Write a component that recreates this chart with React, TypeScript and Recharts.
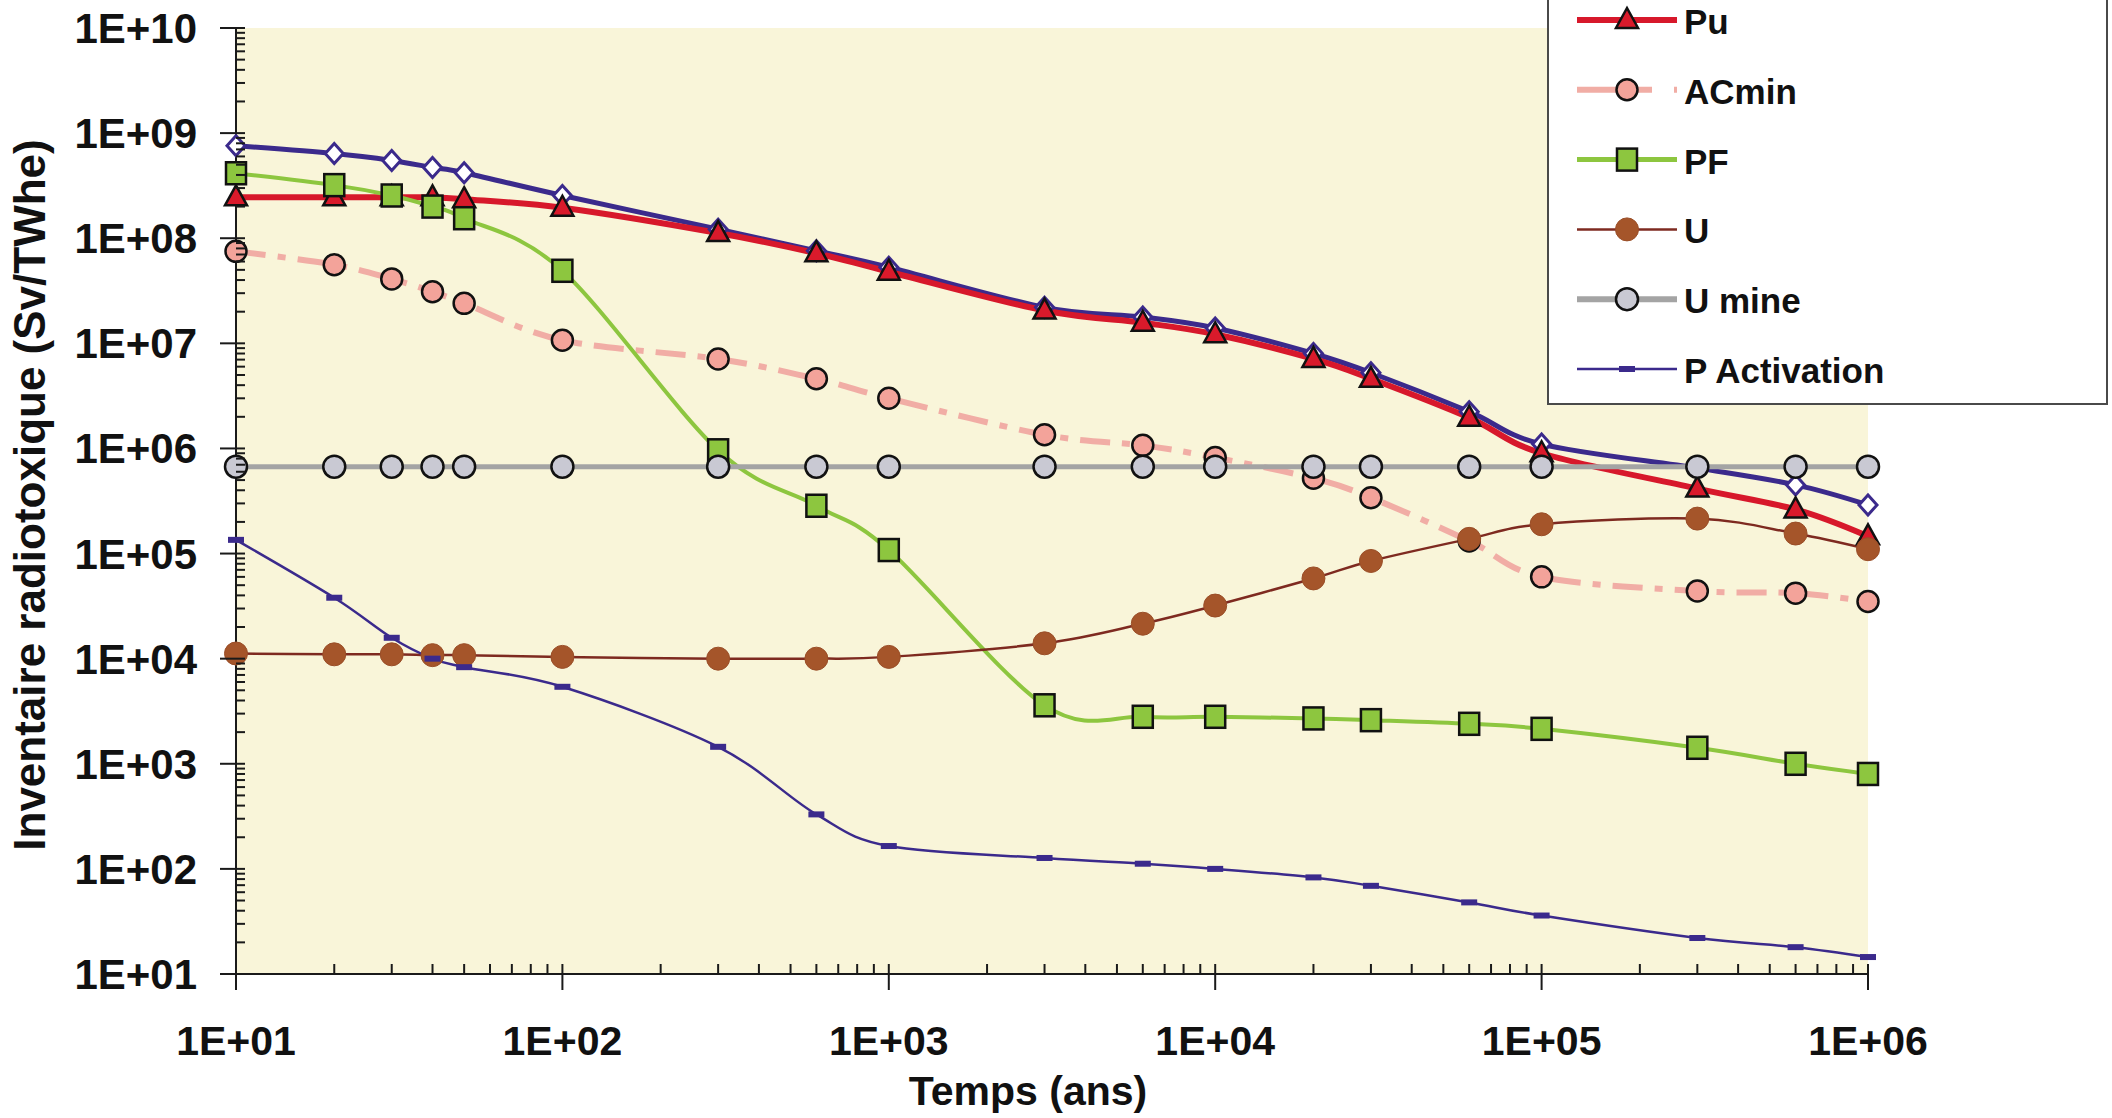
import React from 'react';
import { LineChart, Line, XAxis, YAxis, CartesianGrid } from 'recharts';

// Time points (years)
const years = [10, 20, 30, 40, 50, 100, 300, 600, 1000, 3000, 6000, 10000, 20000, 30000, 60000, 100000, 300000, 600000, 1000000];

// Series values (Sv/TWhe)
const totalSeries = [7.6e8, 6.4e8, 5.5e8, 4.7e8, 4.2e8, 2.55e8, 1.22e8, 7.6e7, 5.3e7, 2.2e7, 1.78e7, 1.4e7, 8.0e6, 5.25e6, 2.24e6, 1.1e6, 6.5e5, 4.5e5, 2.9e5];
const puSeries = [2.45e8, 2.45e8, 2.45e8, 2.45e8, 2.35e8, 1.95e8, 1.12e8, 7.2e7, 4.8e7, 2.05e7, 1.57e7, 1.22e7, 7.1e6, 4.6e6, 1.96e6, 9.0e5, 4.15e5, 2.63e5, 1.46e5];
const acminSeries = [7.5e7, 5.6e7, 4.1e7, 3.1e7, 2.4e7, 1.07e7, 7.1e6, 4.6e6, 3.0e6, 1.35e6, 1.07e6, 8.2e5, 5.2e5, 3.4e5, 1.32e5, 6.0e4, 4.4e4, 4.2e4, 3.5e4];
const pfSeries = [4.15e8, 3.2e8, 2.55e8, 2.0e8, 1.55e8, 4.9e7, 9.6e5, 2.85e5, 1.08e5, 3.6e3, 2.8e3, 2.8e3, 2.7e3, 2.6e3, 2.4e3, 2.15e3, 1.42e3, 1.0e3, 8.0e2];
const uSeries = [1.12e4, 1.1e4, 1.1e4, 1.08e4, 1.08e4, 1.04e4, 1.0e4, 1.0e4, 1.04e4, 1.4e4, 2.15e4, 3.2e4, 5.8e4, 8.5e4, 1.38e5, 1.9e5, 2.15e5, 1.55e5, 1.1e5];
const uMineSeries = [6.7e5, 6.7e5, 6.7e5, 6.7e5, 6.7e5, 6.7e5, 6.7e5, 6.7e5, 6.7e5, 6.7e5, 6.7e5, 6.7e5, 6.7e5, 6.7e5, 6.7e5, 6.7e5, 6.7e5, 6.7e5, 6.7e5];
const pActSeries = [1.35e5, 3.8e4, 1.58e4, 1.0e4, 8.3e3, 5.4e3, 1.45e3, 3.3e2, 1.65e2, 1.27e2, 1.12e2, 1.0e2, 8.3e1, 6.9e1, 4.8e1, 3.6e1, 2.2e1, 1.8e1, 1.45e1];

// Axis ticks
const xDecades = [10, 100, 1000, 10000, 100000, 1000000];
const yDecades = [10, 100, 1000, 1e4, 1e5, 1e6, 1e7, 1e8, 1e9, 1e10];
const minorSteps = [2, 3, 4, 5, 6, 7, 8, 9];

const withMinors = (decades: number[]) => {
  const out: number[] = [];
  decades.forEach((d, i) => {
    out.push(d);
    if (i < decades.length - 1) minorSteps.forEach((m) => out.push(d * m));
  });
  return out;
};
const xTicks = withMinors(xDecades);
const yTicks = withMinors(yDecades);

const data = years.map((t, i) => ({
  t,
  total: totalSeries[i],
  pu: puSeries[i],
  acmin: acminSeries[i],
  pf: pfSeries[i],
  u: uSeries[i],
  umine: uMineSeries[i],
  pact: pActSeries[i],
}));

const FONT = '"Liberation Sans", Arial, Helvetica, sans-serif';

const C = {
  bg: '#F9F5D9',
  total: '#3B2A8C',
  pu: '#D7182B',
  acmin: '#F1ADA5',
  acminFill: '#F3A39A',
  pf: '#8DC63F',
  u: '#7E2A20',
  uFill: '#A5552A',
  umine: '#A4A4A4',
  umineFill: '#C9C9D3',
  pact: '#3B2A8C',
};

// Excel-like smoothing (cardinal spline, tension 0)
function smoothCurve(context: any) {
  const k = 1 / 6;
  let x0 = NaN, y0 = NaN, x1 = NaN, y1 = NaN, x2 = NaN, y2 = NaN;
  let pt = 0;
  let line: number = NaN;
  const seg = (x: number, y: number) => {
    context.bezierCurveTo(
      x1 + k * (x2 - x0), y1 + k * (y2 - y0),
      x2 + k * (x1 - x), y2 + k * (y1 - y),
      x2, y2
    );
  };
  return {
    areaStart() { line = 0; },
    areaEnd() { line = NaN; },
    lineStart() { x0 = x1 = x2 = y0 = y1 = y2 = NaN; pt = 0; },
    lineEnd() {
      if (pt === 2) context.lineTo(x2, y2);
      else if (pt === 3) seg(x1, y1);
      if (line || (line !== 0 && pt === 1)) context.closePath();
      line = 1 - line;
    },
    point(x: number, y: number) {
      x = +x; y = +y;
      switch (pt) {
        case 0: pt = 1; if (line) context.lineTo(x, y); else context.moveTo(x, y); break;
        case 1: pt = 2; x1 = x; y1 = y; break;
        case 2: pt = 3; seg(x, y); break;
        default: seg(x, y); break;
      }
      x0 = x1; x1 = x2; x2 = x;
      y0 = y1; y1 = y2; y2 = y;
    },
  };
}

const isDecade = (v: number) => Math.abs(Math.log10(v) - Math.round(Math.log10(v))) < 1e-6;
const sci = (v: number) => `1E+${String(Math.round(Math.log10(v))).padStart(2, '0')}`;

const YTick = (props: any) => {
  const { x, y, payload } = props;
  const major = isDecade(payload.value);
  return (
    <g>
      <line x1={major ? x - 16 : x} x2={x + 9} y1={y} y2={y} stroke="#1a1a1a" strokeWidth={2} />
      {major && (
        <text x={x - 39} y={y + 15} textAnchor="end" fontFamily={FONT} fontWeight="bold" fontSize={42} fill="#111">
          {sci(payload.value)}
        </text>
      )}
    </g>
  );
};

const XTick = (props: any) => {
  const { x, y, payload } = props;
  const major = isDecade(payload.value);
  return (
    <g>
      <line x1={x} x2={x} y1={y - 10} y2={major ? y + 16 : y} stroke="#1a1a1a" strokeWidth={2} />
      {major && (
        <text x={x} y={y + 81} textAnchor="middle" fontFamily={FONT} fontWeight="bold" fontSize={41} fill="#111">
          {sci(payload.value)}
        </text>
      )}
    </g>
  );
};

// markers
const Diamond = ({ cx, cy }: any) => (
  <path d={`M${cx},${cy - 10}L${cx + 9},${cy}L${cx},${cy + 10}L${cx - 9},${cy}Z`} fill="#fff" stroke={C.total} strokeWidth={3} />
);
const Triangle = ({ cx, cy }: any) => (
  <path d={`M${cx},${cy - 12}L${cx + 11},${cy + 8}L${cx - 11},${cy + 8}Z`} fill="#D91A2B" stroke="#111" strokeWidth={2.5} />
);
const AcCircle = ({ cx, cy }: any) => <circle cx={cx} cy={cy} r={10.5} fill={C.acminFill} stroke="#111" strokeWidth={2.5} />;
const Square = ({ cx, cy }: any) => (
  <rect x={cx - 10} y={cy - 11} width={20} height={22} fill={C.pf} stroke="#111" strokeWidth={2.5} />
);
const UCircle = ({ cx, cy }: any) => <circle cx={cx} cy={cy} r={11.5} fill={C.uFill} stroke="#9A4E28" strokeWidth={1} />;
const UMineCircle = ({ cx, cy }: any) => <circle cx={cx} cy={cy} r={11} fill={C.umineFill} stroke="#111" strokeWidth={2.5} />;
const Dash = ({ cx, cy }: any) => <rect x={cx - 8} y={cy - 3} width={16} height={6} fill={C.pact} />;

const dotOf = (Comp: any) => (p: any) => <Comp key={p.index} cx={p.cx} cy={p.cy} />;

const legendItems = [
  { name: 'Pu', color: C.pu, width: 6, dash: undefined as string | undefined, Marker: Triangle },
  { name: 'ACmin', color: C.acmin, width: 6, dash: '75 22 4 30', Marker: AcCircle },
  { name: 'PF', color: C.pf, width: 5, dash: undefined, Marker: Square },
  { name: 'U', color: C.u, width: 2.5, dash: undefined, Marker: UCircle },
  { name: 'U mine', color: C.umine, width: 6, dash: undefined, Marker: UMineCircle },
  { name: 'P Activation', color: C.pact, width: 2.5, dash: undefined, Marker: Dash },
];

const LegendBox = () => {
  const left = 1547;
  const top = -40;
  return (
    <div
      style={{
        position: 'absolute',
        left,
        top,
        width: 561,
        height: 445,
        boxSizing: 'border-box',
        border: '2px solid #4a4a4a',
        background: '#fff',
      }}
    >
      <svg width={557} height={441} style={{ position: 'absolute', left: 0, top: 0 }}>
        {legendItems.map((it, i) => {
          const cy = 20 + i * 69.8 - top - 2;
          const x0 = 1577 - left - 2;
          const x1 = 1677 - left - 2;
          const mx = 1627 - left - 2;
          return (
            <g key={it.name}>
              <line x1={x0} x2={x1} y1={cy} y2={cy} stroke={it.color} strokeWidth={it.width} strokeDasharray={it.dash} />
              <it.Marker cx={mx} cy={cy} />
              <text x={1684 - left - 2} y={cy + 14} fontFamily={FONT} fontWeight="bold" fontSize={35} fill="#111">
                {it.name}
              </text>
            </g>
          );
        })}
      </svg>
    </div>
  );
};

export default function App() {
  return (
    <div style={{ position: 'absolute', left: 0, top: 0, width: 2112, height: 1118, background: '#fff', overflow: 'hidden' }}>
      <LineChart width={2112} height={1118} data={data} margin={{ top: 28, right: 244, bottom: 0, left: 0 }}>
        <CartesianGrid horizontal={false} vertical={false} fill={C.bg} />
        <XAxis
          dataKey="t"
          type="number"
          scale="log"
          domain={[10, 1000000]}
          ticks={xTicks}
          interval={0}
          height={144}
          tickSize={0}
          tickMargin={0}
          tickLine={false}
          axisLine={{ stroke: '#1a1a1a', strokeWidth: 2 }}
          tick={XTick}
        />
        <YAxis
          type="number"
          scale="log"
          domain={[10, 1e10]}
          ticks={yTicks}
          interval={0}
          width={236}
          tickSize={0}
          tickMargin={0}
          tickLine={false}
          axisLine={{ stroke: '#1a1a1a', strokeWidth: 2 }}
          tick={YTick}
        />
        <Line dataKey="total" type={smoothCurve as any} stroke={C.total} strokeWidth={5} dot={dotOf(Diamond)} activeDot={false} isAnimationActive={false} />
        <Line dataKey="pu" type={smoothCurve as any} stroke={C.pu} strokeWidth={6} dot={dotOf(Triangle)} activeDot={false} isAnimationActive={false} />
        <Line dataKey="acmin" type={smoothCurve as any} stroke={C.acmin} strokeWidth={6} strokeDasharray="30 12 8 12" dot={dotOf(AcCircle)} activeDot={false} isAnimationActive={false} />
        <Line dataKey="pf" type={smoothCurve as any} stroke={C.pf} strokeWidth={4} dot={dotOf(Square)} activeDot={false} isAnimationActive={false} />
        <Line dataKey="u" type={smoothCurve as any} stroke={C.u} strokeWidth={2.5} dot={dotOf(UCircle)} activeDot={false} isAnimationActive={false} />
        <Line dataKey="umine" type={smoothCurve as any} stroke={C.umine} strokeWidth={5} dot={dotOf(UMineCircle)} activeDot={false} isAnimationActive={false} />
        <Line dataKey="pact" type={smoothCurve as any} stroke={C.pact} strokeWidth={2.5} dot={dotOf(Dash)} activeDot={false} isAnimationActive={false} />
      </LineChart>
      <svg width={2112} height={1118} style={{ position: 'absolute', left: 0, top: 0, pointerEvents: 'none' }}>
        <text
          x={45}
          y={495}
          transform="rotate(-90 45 495)"
          textAnchor="middle"
          fontFamily={FONT}
          fontWeight="bold"
          fontSize={44}
          fill="#111"
        >
          Inventaire radiotoxique (Sv/TWhe)
        </text>
        <text x={1028} y={1105} textAnchor="middle" fontFamily={FONT} fontWeight="bold" fontSize={41} fill="#111">
          Temps (ans)
        </text>
      </svg>
      <LegendBox />
    </div>
  );
}
